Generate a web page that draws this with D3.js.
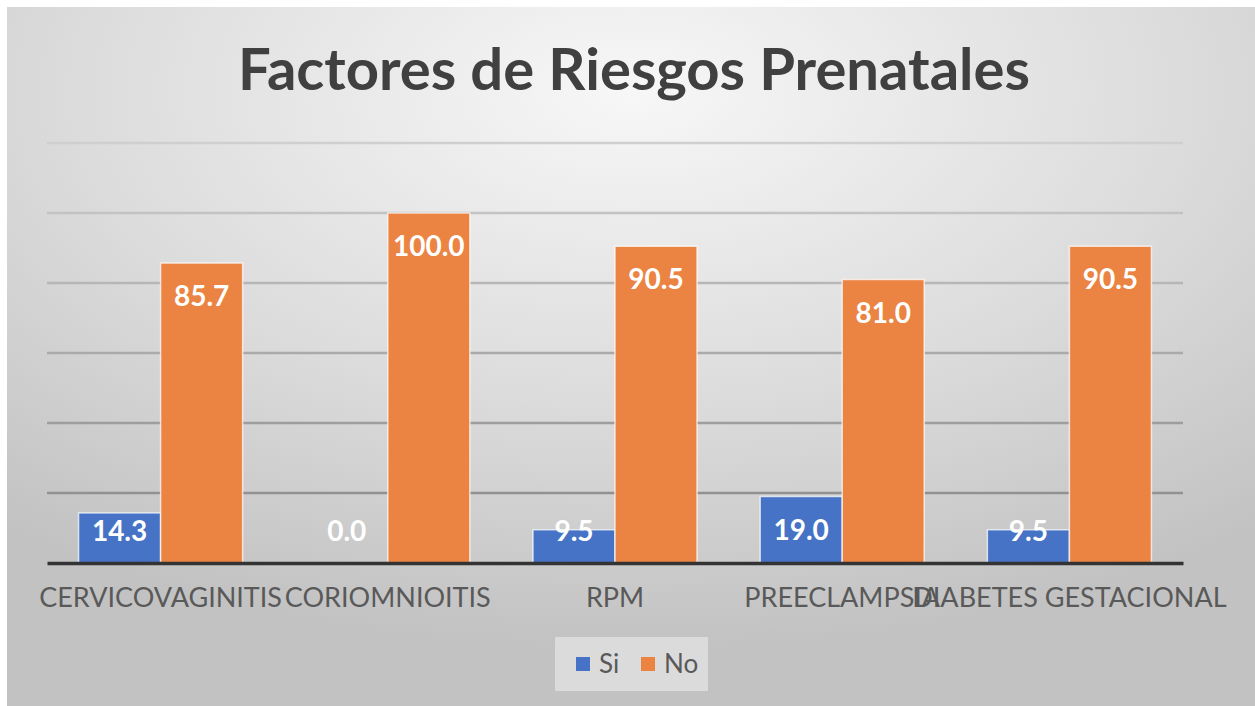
<!DOCTYPE html>
<html>
  <head>
    <meta charset="utf-8">
    <title>Factores de Riesgos Prenatales</title>
    <style>
      html, body {
        margin: 0;
        padding: 0;
        background: #fff;
      }

      svg {
        display: block;
      }

      text {
        font-family: Lato, "Open Sans", sans-serif;
      }

      .title {
        fill: #404040;
        font-weight: bold;
      }

      .catLabel, .legendText {
        fill: #595959;
      }

      .valueText {
        fill: #fff;
        font-weight: bold;
      }
    </style>
  </head>
  <body>
    <svg width="1255" height="706"></svg>
    <script src="https://cdn.jsdelivr.net/npm/d3@7"></script>
    <script>
      var categories = [ 'CERVICOVAGINITIS', 'CORIOMNIOITIS', 'RPM', 'PREECLAMPSIA', 'DIABETES GESTACIONAL' ];
      var seriesNames = [ 'Si', 'No' ];
      var siValues = [ 14.3, 0.0, 9.5, 19.0, 9.5 ];
      var noValues = [ 85.7, 100.0, 90.5, 81.0, 90.5 ];
      var yTicks = [ 0, 20, 40, 60, 80, 100, 120 ];

      var colors = { Si: '#4673c5', No: '#eb8442' };

      var width = 1255, height = 706;
      var plot = { left: 47, right: 1183, top: 143, bottom: 563 };

      var svg = d3.select( 'svg' );
      var defs = svg.append( 'defs' );

      // background: soft radial gradient like the office chart style
      var bg = defs.append( 'radialGradient' )
        .attr( 'id', 'bgGrad' )
        .attr( 'cx', '50%' ).attr( 'cy', '12%' )
        .attr( 'r', '80%' );
      bg.append( 'stop' ).attr( 'offset', '0%' ).attr( 'stop-color', '#f7f7f7' );
      bg.append( 'stop' ).attr( 'offset', '55%' ).attr( 'stop-color', '#dcdcdc' );
      bg.append( 'stop' ).attr( 'offset', '100%' ).attr( 'stop-color', '#c2c2c2' );

      // gridlines get darker towards the bottom
      var gg = defs.append( 'linearGradient' )
        .attr( 'id', 'gridGrad' )
        .attr( 'gradientUnits', 'userSpaceOnUse' )
        .attr( 'x1', 0 ).attr( 'y1', plot.top )
        .attr( 'x2', 0 ).attr( 'y2', plot.bottom );
      gg.append( 'stop' ).attr( 'offset', '0%' ).attr( 'stop-color', '#cfcfcf' );
      gg.append( 'stop' ).attr( 'offset', '100%' ).attr( 'stop-color', '#858585' );

      svg.append( 'rect' )
        .attr( 'x', 7 )
        .attr( 'y', 7 )
        .attr( 'width', width - 7 )
        .attr( 'height', height - 7 )
        .attr( 'fill', 'url(#bgGrad)' );

      var x0 = d3.scaleBand()
        .domain( categories )
        .range( [ plot.left, plot.right ] )
        .padding( 0 );

      var x1 = d3.scaleBand()
        .domain( seriesNames )
        .range( [ 0, x0.bandwidth() ] )
        .paddingInner( 0 )
        .paddingOuter( 0.385 );

      var y = d3.scaleLinear()
        .domain( [ 0, 120 ] )
        .range( [ plot.bottom, plot.top ] );

      // gridlines
      svg.append( 'g' )
        .selectAll( 'line' )
        .data( yTicks.filter( function( d ) { return d > 0; } ) )
        .enter()
        .append( 'line' )
          .attr( 'x1', plot.left )
          .attr( 'x2', plot.right )
          .attr( 'y1', function( d ) { return y( d ); } )
          .attr( 'y2', function( d ) { return y( d ); } )
          .attr( 'stroke', 'url(#gridGrad)' )
          .attr( 'stroke-width', 2.5 );

      // title
      svg.append( 'text' )
        .classed( 'title', true )
        .attr( 'x', 634 )
        .attr( 'y', 90 )
        .attr( 'text-anchor', 'middle' )
        .attr( 'font-size', 58 )
        .text( 'Factores de Riesgos Prenatales' );

      var rows = categories.map( function( c, i ) {
        return { cat: c, values: [ { key: 'Si', value: siValues[i] }, { key: 'No', value: noValues[i] } ] };
      } );

      var groups = svg.append( 'g' )
        .selectAll( 'g' )
        .data( rows )
        .enter()
        .append( 'g' )
          .attr( 'transform', function( d ) { return 'translate(' + x0( d.cat ) + ',0)'; } );

      groups.selectAll( 'rect' )
        .data( function( d ) { return d.values; } )
        .enter()
        .append( 'rect' )
          .attr( 'x', function( d ) { return x1( d.key ); } )
          .attr( 'y', function( d ) { return y( d.value ); } )
          .attr( 'width', x1.bandwidth() )
          .attr( 'height', function( d ) { return y( 0 ) - y( d.value ); } )
          .attr( 'fill', function( d ) { return colors[d.key]; } )
          .attr( 'stroke', '#fff' )
          .attr( 'stroke-opacity', 0.7 )
          .attr( 'stroke-width', 1.5 );

      // data labels: inside end, but kept above the axis for short bars
      groups.selectAll( 'text' )
        .data( function( d ) { return d.values; } )
        .enter()
        .append( 'text' )
          .classed( 'valueText', true )
          .attr( 'x', function( d ) { return x1( d.key ) + x1.bandwidth() / 2; } )
          .attr( 'y', function( d ) { return Math.min( y( d.value ) + 32, y( 0 ) - 33 ); } )
          .attr( 'text-anchor', 'middle' )
          .attr( 'dominant-baseline', 'central' )
          .attr( 'font-size', 28 )
          .text( function( d ) { return d.value.toFixed( 1 ); } );

      // baseline axis
      var xAxis = d3.axisBottom( x0 ).tickSize( 0 ).tickPadding( 25 );
      var axisG = svg.append( 'g' )
        .attr( 'transform', 'translate(0,' + y( 0 ) + ')' )
        .call( xAxis );
      axisG.select( '.domain' )
        .attr( 'stroke', '#333' )
        .attr( 'stroke-width', 3.5 );
      axisG.selectAll( '.tick text' )
        .classed( 'catLabel', true )
        .attr( 'fill', null )
        .attr( 'font-family', null )
        .attr( 'font-size', 27 )
        .attr( 'dy', '0.71em' );

      // legend
      var legend = svg.append( 'g' );
      legend.append( 'rect' )
        .attr( 'x', 555 )
        .attr( 'y', 637 )
        .attr( 'width', 153 )
        .attr( 'height', 54 )
        .attr( 'fill', '#e6e6e6' )
        .attr( 'opacity', 0.7 );
      var legendX = [ 576, 641 ];
      seriesNames.forEach( function( s, i ) {
        legend.append( 'rect' )
          .attr( 'x', legendX[i] )
          .attr( 'y', 657 )
          .attr( 'width', 14 )
          .attr( 'height', 14 )
          .attr( 'fill', colors[s] );
        legend.append( 'text' )
          .classed( 'legendText', true )
          .attr( 'x', legendX[i] + 23 )
          .attr( 'y', 673 )
          .attr( 'font-size', 26 )
          .text( s );
      } );
    </script>
  </body>
</html>
